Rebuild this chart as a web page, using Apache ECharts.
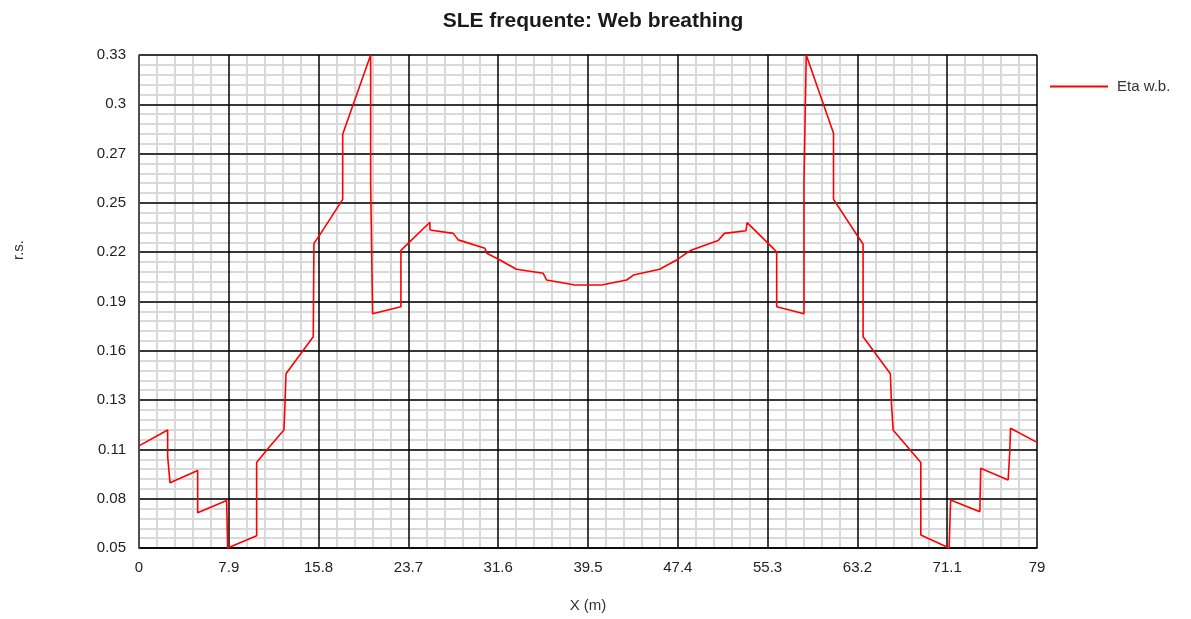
<!DOCTYPE html>
<html>
<head>
<meta charset="utf-8">
<script src="https://cdn.jsdelivr.net/npm/echarts@6/dist/echarts.min.js"></script>
<style>
  html, body { margin: 0; padding: 0; background: #fff; }
  #chart { width: 1191px; height: 619px; }
</style>
</head>
<body>
<div id="chart"></div>
<script>
// stations along the web (m) and eta w.b. values
const xPos = [0, 2.52, 2.52, 2.73, 5.16, 5.16, 7.71, 7.8, 10.35, 10.35, 11.37, 12.75, 12.85, 12.93,
  15.33, 15.39, 15.92, 17.92, 17.92, 20.38, 20.38, 20.55, 23.04, 23.04, 25.59, 25.6, 27.65, 28.08,
  30.43, 30.6, 31.75, 33.2, 35.56, 35.86, 38.35, 40.7, 42.9, 43.5, 45.8, 47.3, 48.5, 50.95, 51.5,
  53.4, 53.5, 55.8, 56.1, 56.1, 58.5, 58.5, 58.7, 61.1, 61.1, 63.26, 63.7, 63.7, 66.1, 66.2, 66.34,
  68.78, 68.78, 71.27, 71.4, 73.97, 74.05, 76.46, 76.6, 76.67, 79]
const etaWb = [0.108, 0.117, 0.102, 0.087, 0.094, 0.070, 0.077, 0.050, 0.057, 0.0985, 0.1066, 0.117, 0.133, 0.149,
  0.170, 0.223, 0.228, 0.248, 0.285, 0.330, 0.257, 0.183, 0.187, 0.219, 0.235, 0.2306, 0.2287, 0.225,
  0.2202, 0.2174, 0.2136, 0.2083, 0.206, 0.2022, 0.1994, 0.1994, 0.2022, 0.205, 0.2083, 0.2136, 0.2189, 0.2246, 0.2287,
  0.2302, 0.2348, 0.2202, 0.218, 0.187, 0.183, 0.257, 0.330, 0.2856, 0.248, 0.2268, 0.2227, 0.170, 0.149, 0.132, 0.117,
  0.0985, 0.0574, 0.050, 0.0773, 0.0706, 0.0953, 0.0886, 0.1038, 0.118, 0.110]

const xTicks = [0, 7.9, 15.8, 23.7, 31.6, 39.5, 47.4, 55.3, 63.2, 71.1, 79]
const xTickLabels = ['0', '7.9', '15.8', '23.7', '31.6', '39.5', '47.4', '55.3', '63.2', '71.1', '79']
const yTicks = [0.05, 0.078, 0.106, 0.134, 0.162, 0.19, 0.218, 0.246, 0.274, 0.302, 0.33]
const yTickLabels = ['0.05', '0.08', '0.11', '0.13', '0.16', '0.19', '0.22', '0.25', '0.27', '0.3', '0.33']

const font = 'Liberation Sans, Arial, sans-serif'
const chart = echarts.init(document.getElementById('chart'))

const seriesData = xPos.map((x, i) => [x, etaWb[i]])

const option = {
  backgroundColor: '#fff',
  animation: false,
  title: {
    text: 'SLE frequente: Web breathing',
    left: 588,
    top: 6,
    textAlign: 'center',
    textStyle: { fontFamily: font, fontSize: 21, fontWeight: 'bold', color: '#1a1a1a' },
  },
  legend: {
    left: 1045,
    top: 74,
    orient: 'vertical',
    icon: 'rect',
    itemWidth: 58,
    itemHeight: 2,
    itemGap: 10,
    textStyle: { fontFamily: font, fontSize: 15, color: '#333', padding: [0, 0, 0, 4] },
    data: ['Eta w.b.'],
  },
  graphic: [{
    type: 'text',
    x: 11,
    y: 260,
    rotation: Math.PI / 2,
    style: { text: 'r.s.', font: '15px ' + font, fill: '#333' },
  }],
  grid: { left: 139, right: 154, top: 55, bottom: 71 },
  xAxis: {
    type: 'value',
    min: 0,
    max: 79,
    interval: 7.9,
    name: 'X (m)',
    nameLocation: 'middle',
    nameGap: 50,
    nameTextStyle: { fontFamily: font, fontSize: 15, color: '#333' },
    axisLine: { show: true, lineStyle: { color: '#000', width: 1.5 } },
    axisTick: { show: false },
    axisLabel: {
      margin: 12,
      fontFamily: font,
      fontSize: 15,
      color: '#222',
      formatter: (v) => {
        const i = xTicks.findIndex(t => Math.abs(t - v) < 1e-6)
        return i >= 0 ? xTickLabels[i] : ''
      },
    },
    splitLine: { show: true, lineStyle: { color: '#000', width: 1.5 } },
    minorTick: { show: false, splitNumber: 5 },
    minorSplitLine: { show: true, lineStyle: { color: '#d9d9d9', width: 2 } },
    z: 2,
  },
  yAxis: [
    {
      type: 'value',
      min: 0.05,
      max: 0.33,
      axisLine: { show: true, lineStyle: { color: '#555', width: 1.5 } },
      axisTick: { show: false, customValues: yTicks },
      axisLabel: {
        margin: 13,
        fontFamily: font,
        fontSize: 15,
        color: '#222',
        customValues: yTicks,
        formatter: (v) => {
          const i = yTicks.findIndex(t => Math.abs(t - v) < 1e-6)
          return i >= 0 ? yTickLabels[i] : ''
        },
      },
      splitLine: { show: true, lineStyle: { color: '#000', width: 1.5 } },
      z: 3,
    },
    {
      // fine background grid only
      type: 'value',
      min: 0,
      max: 50,
      interval: 1,
      position: 'right',
      axisLine: { show: false },
      axisTick: { show: false },
      axisLabel: { show: false },
      splitLine: { show: true, lineStyle: { color: '#d9d9d9', width: 2 } },
      z: 1,
    },
  ],
  series: [
    {
      name: 'Eta w.b.',
      type: 'line',
      yAxisIndex: 0,
      data: seriesData,
      showSymbol: false,
      symbol: 'none',
      lineStyle: { color: '#ff0000', width: 1.6 },
      itemStyle: { color: '#ff0000' },
      z: 5,
    },
  ],
}

chart.setOption(option)
</script>
</body>
</html>
